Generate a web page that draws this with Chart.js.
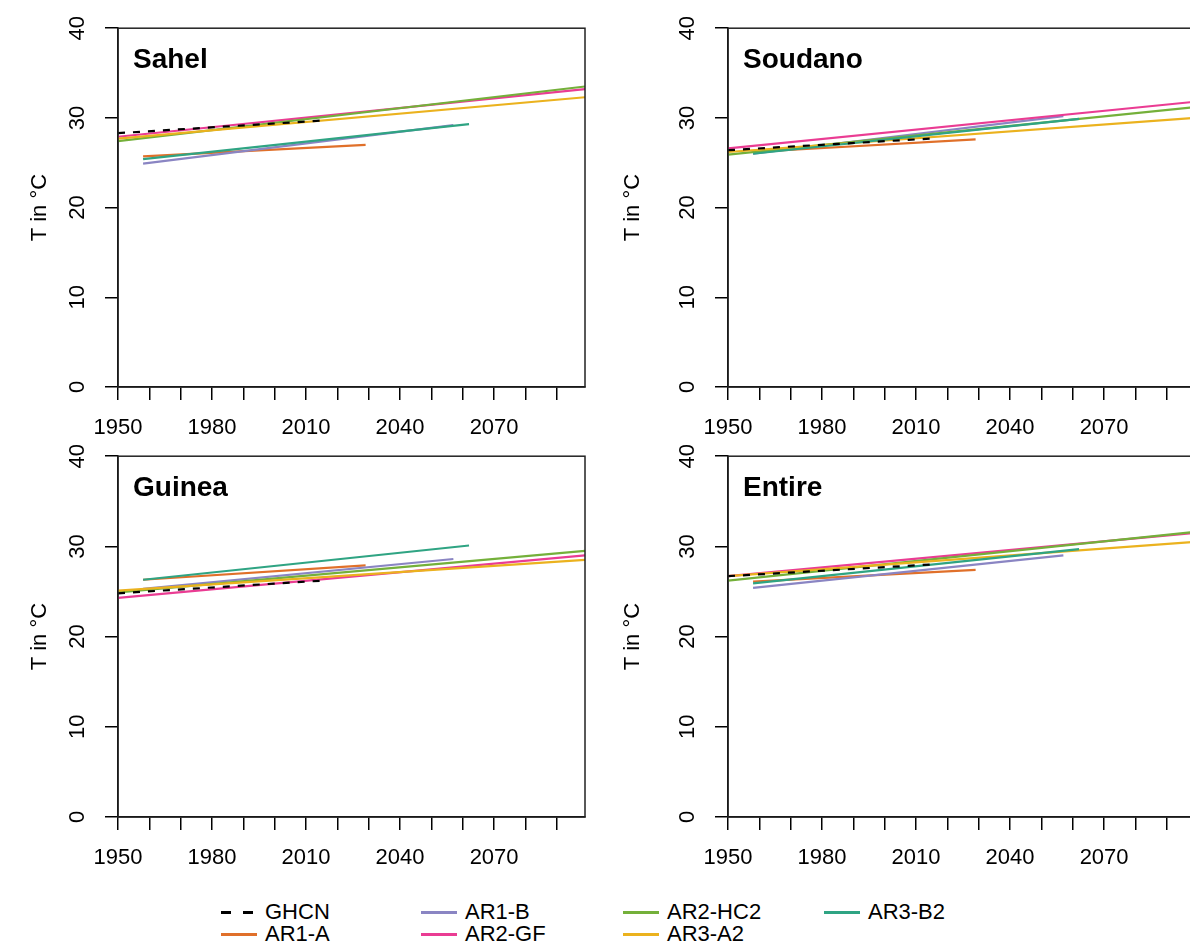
<!DOCTYPE html>
<html>
<head>
<meta charset="utf-8">
<script src="https://cdn.jsdelivr.net/npm/chart.js@4"></script>
<style>
  html, body { margin: 0; padding: 0; width: 1190px; height: 945px; overflow: hidden; background: #fff; }
  canvas { position: absolute; }
  .leg { position: absolute; font-family: 'Liberation Sans', Arial, sans-serif; font-size: 22px; color: #000; line-height: 22px; white-space: nowrap; }
  .leg span.ln { position: absolute; left: -44px; top: 10px; width: 36px; height: 3px; }
</style>
</head>
<body>
<canvas id="c1" width="600" height="460" style="left:0;top:0"></canvas>
<canvas id="c2" width="600" height="460" style="left:610px;top:0"></canvas>
<canvas id="c3" width="600" height="460" style="left:0;top:428px"></canvas>
<canvas id="c4" width="600" height="460" style="left:610px;top:428px"></canvas>
<div id="legend"></div>
<script>
// series (legend order)
const seriesNames = ['GHCN', 'AR1-A', 'AR1-B', 'AR2-GF', 'AR2-HC2', 'AR3-A2', 'AR3-B2'];
const seriesColors = ['#000000', '#E0702A', '#8A85C3', '#EA3C93', '#74B03A', '#EBB21E', '#2FA483'];
const startYears = [1950, 1958, 1958, 1950, 1950, 1950, 1958];
const endYears = [2015, 2029, 2057, 2099, 2099, 2099, 2062];

// trend values (°C) at start / end year
const sahelStart   = [28.3, 25.7, 24.9, 27.9, 27.4, 27.7, 25.4];
const sahelEnd     = [29.7, 27.0, 29.2, 33.2, 33.5, 32.3, 29.3];
const soudanoStart = [26.4, 26.2, 26.0, 26.6, 25.9, 26.2, 26.0];
const soudanoEnd   = [27.7, 27.6, 30.2, 31.8, 31.2, 30.0, 29.9];
const guineaStart  = [24.8, 26.3, 25.3, 24.3, 24.9, 25.1, 26.3];
const guineaEnd    = [26.2, 27.9, 28.6, 29.0, 29.5, 28.5, 30.1];
const entireStart  = [26.7, 26.1, 25.4, 26.7, 26.2, 26.7, 25.9];
const entireEnd    = [28.0, 27.4, 29.0, 31.5, 31.6, 30.5, 29.7];

const yTicks = [0, 10, 20, 30, 40];
const xTickLabels = [1950, 1980, 2010, 2040, 2070];

Chart.defaults.font.family = "'Liberation Sans', Arial, sans-serif";
Chart.defaults.font.size = 22;
Chart.defaults.color = '#000';

function makePanel(id, title, starts, ends, xAxisHeight, titlePad) {
    const datasets = seriesNames.map((name, i) => ({
        label: name,
        data: [{ x: startYears[i], y: starts[i] }, { x: endYears[i], y: ends[i] }],
        borderColor: seriesColors[i],
        borderWidth: 2.2,
        borderDash: i === 0 ? [7, 8] : [],
        pointRadius: 0,
        tension: 0,
        fill: false,
        // later series on top, observations on top of all
        order: i === 0 ? -1 : seriesNames.length - i,
    }));

    // frame box and panel title
    const panelDeco = {
        id: 'panelDeco',
        afterDatasetsDraw(chart) {
            const { ctx, chartArea: a } = chart;
            ctx.save();
            ctx.strokeStyle = '#222';
            ctx.lineWidth = 1.5;
            ctx.strokeRect(a.left, a.top, a.right - a.left, a.bottom - a.top);
            ctx.fillStyle = '#000';
            ctx.font = "bold 28px 'Liberation Sans', Arial, sans-serif";
            ctx.textBaseline = 'middle';
            ctx.fillText(title, a.left + 15, a.top + 32);
            ctx.restore();
        }
    };

    new Chart(document.getElementById(id), {
        type: 'line',
        data: { datasets: datasets },
        options: {
            responsive: false,
            animation: false,
            devicePixelRatio: 1,
            layout: { padding: { top: 27, right: 15, left: 0, bottom: 0 } },
            plugins: { legend: { display: false }, tooltip: { enabled: false } },
            scales: {
                x: {
                    type: 'linear',
                    min: 1950,
                    max: 2099,
                    afterFit: s => { s.height = xAxisHeight; },
                    grid: { drawOnChartArea: false, drawTicks: true, tickLength: 13, color: '#000', lineWidth: 1.5 },
                    border: { color: '#000', width: 1.5 },
                    ticks: {
                        stepSize: 10,
                        autoSkip: false,
                        includeBounds: false,
                        maxRotation: 0,
                        padding: 15,
                        callback: v => xTickLabels.includes(v) ? String(v) : '',
                    },
                },
                y: {
                    type: 'linear',
                    min: 0,
                    max: 40,
                    afterFit: s => { s.width = 118; },
                    afterBuildTicks: s => { s.ticks = yTicks.map(v => ({ value: v })); },
                    grid: { drawOnChartArea: false, drawTicks: true, tickLength: 13, color: '#000', lineWidth: 1.5 },
                    border: { color: '#000', width: 1.5 },
                    ticks: { minRotation: 90, maxRotation: 90, crossAlign: 'center', padding: 15 },
                    title: { display: true, text: 'T in °C', font: { size: 22 }, padding: { top: titlePad, bottom: 0 } },
                },
            },
        },
        plugins: [panelDeco],
    });
}

makePanel('c1', 'Sahel', sahelStart, sahelEnd, 73, 27);
makePanel('c2', 'Soudano', soudanoStart, soudanoEnd, 73, 10);
makePanel('c3', 'Guinea', guineaStart, guineaEnd, 71, 27);
makePanel('c4', 'Entire', entireStart, entireEnd, 71, 10);

// legend below the panels, filled column by column like R
const legendCols = [265, 465, 667, 868];
const legendRows = [901, 923];
const legend = document.getElementById('legend');
seriesNames.forEach((name, i) => {
    const col = Math.floor(i / 2), row = i % 2;
    const d = document.createElement('div');
    d.className = 'leg';
    d.style.left = legendCols[col] + 'px';
    d.style.top = legendRows[row] + 'px';
    const ln = document.createElement('span');
    ln.className = 'ln';
    if (i === 0) {
        ln.style.background = 'linear-gradient(to right, #000 0 10px, transparent 10px 22px, #000 22px 32px, transparent 32px)';
    } else {
        ln.style.background = seriesColors[i];
    }
    d.appendChild(ln);
    d.appendChild(document.createTextNode(name));
    legend.appendChild(d);
});
</script>
</body>
</html>
